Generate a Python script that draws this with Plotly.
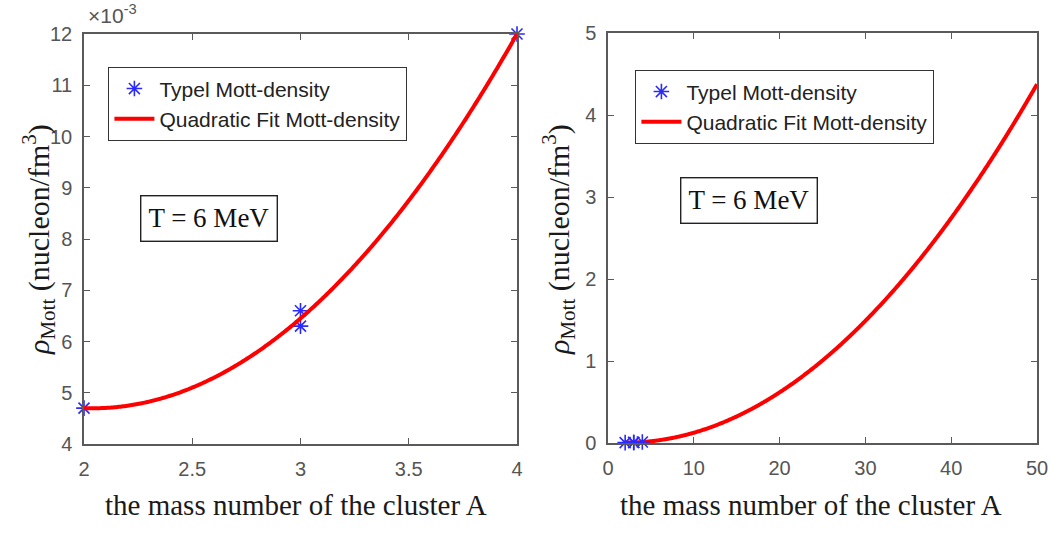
import numpy as np
import plotly.graph_objects as go

# Mott densities (nucleon/fm^3) of light clusters at T = 6 MeV
mass_number = [2, 3, 3, 4]
mott_density = [0.0047, 0.0066, 0.0063, 0.0120]

# Quadratic fit of the Mott density versus cluster mass number
coeffs = np.polyfit(mass_number, mott_density, 2)
a_left = np.linspace(2, 4, 300)
a_right = np.linspace(2, 50, 600)
fit_left = np.polyval(coeffs, a_left)
fit_right = np.polyval(coeffs, a_right)

left_yticks = [0.004, 0.005, 0.006, 0.007, 0.008, 0.009, 0.010, 0.011, 0.012]
left_yticklabels = ["4", "5", "6", "7", "8", "9", "10", "11", "12"]
left_xticks = [2, 2.5, 3, 3.5, 4]
right_xticks = [0, 10, 20, 30, 40, 50]
right_yticks = [0, 1, 2, 3, 4, 5]

W, H = 1050, 545
SANS = "Liberation Sans, Arial, sans-serif"
SERIF = "Liberation Serif, Times New Roman, serif"
TICK_COLOR = "#555555"
AX_COLOR = "#5a5a5a"


def px_x(p):
    return p / W


def px_y(p):
    return 1 - p / H


fig = go.Figure()

marker_style = dict(symbol="asterisk-open", size=13,
                    line=dict(color="#2a2aff", width=1.6), color="#2a2aff")
fit_line = dict(color="#ff0000", width=4, simplify=False)

fig.add_trace(go.Scatter(x=mass_number, y=mott_density, mode="markers",
                         marker=marker_style, name="Typel Mott-density",
                         xaxis="x", yaxis="y", legend="legend", cliponaxis=False))
fig.add_trace(go.Scatter(x=a_left, y=fit_left, mode="lines", line=fit_line,
                         name="Quadratic Fit Mott-density",
                         xaxis="x", yaxis="y", legend="legend"))

fig.add_trace(go.Scatter(x=a_right, y=fit_right, mode="lines", line=fit_line,
                         name="Quadratic Fit Mott-density",
                         xaxis="x2", yaxis="y2", legend="legend2"))
fig.add_trace(go.Scatter(x=mass_number, y=mott_density, mode="markers",
                         marker=marker_style, name="Typel Mott-density",
                         xaxis="x2", yaxis="y2", legend="legend2", cliponaxis=False))

axis_common = dict(showline=True, linecolor=AX_COLOR, linewidth=1.5, mirror="ticks",
                   ticks="inside", ticklen=6, tickcolor=AX_COLOR, tickwidth=1.3,
                   showgrid=False, zeroline=False, automargin=False,
                   ticklabelstandoff=6,
                   tickfont=dict(family=SANS, size=20, color=TICK_COLOR))

legend_common = dict(xanchor="left", yanchor="top",
                     bordercolor="#333", borderwidth=1.4, bgcolor="white",
                     font=dict(family=SANS, size=21, color="#222"), tracegroupgap=0,
                     itemwidth=40)

fig.update_layout(
    width=W, height=H,
    margin=dict(l=0, r=0, t=0, b=0, autoexpand=False),
    paper_bgcolor="white", plot_bgcolor="white",
    xaxis=dict(axis_common, domain=[px_x(84), px_x(517)], range=[2, 4],
               tickvals=left_xticks, anchor="y"),
    yaxis=dict(axis_common, domain=[px_y(444), px_y(34)], range=[0.004, 0.012],
               tickvals=left_yticks, ticktext=left_yticklabels, anchor="x"),
    xaxis2=dict(axis_common, domain=[px_x(608), px_x(1037)], range=[0, 50],
                tickvals=right_xticks, anchor="y2"),
    yaxis2=dict(axis_common, domain=[px_y(443), px_y(33)], range=[0, 5],
                tickvals=right_yticks, anchor="x2"),
    legend=dict(legend_common, x=px_x(108), y=px_y(67)),
    legend2=dict(legend_common, x=px_x(635), y=px_y(70), traceorder="reversed"),
    showlegend=True,
)

xlabel = "the mass number of the cluster A"
ylabel = "<i>ρ</i><sub>Mott</sub> (nucleon/fm<sup>3</sup>)"
title_font = dict(family=SERIF, size=29, color="#1a1a1a")

for cx in (296, 811):
    fig.add_annotation(text=xlabel, xref="paper", yref="paper",
                       x=px_x(cx), y=px_y(505), xanchor="center", yanchor="middle",
                       showarrow=False, font=title_font)
for cx in (38, 558):
    fig.add_annotation(text=ylabel, xref="paper", yref="paper", textangle=-90,
                       x=px_x(cx), y=px_y(240), xanchor="center", yanchor="middle",
                       showarrow=False, font=dict(title_font, size=30))

box_style = dict(showarrow=False, bordercolor="#222", borderwidth=1.4, bgcolor="white",
                 font=dict(family=SERIF, size=27, color="#111"), borderpad=7)
fig.add_annotation(text="T = 6 MeV", xref="paper", yref="paper",
                   x=px_x(209), y=px_y(218), xanchor="center", yanchor="middle", **box_style)
fig.add_annotation(text="T = 6 MeV", xref="paper", yref="paper",
                   x=px_x(749), y=px_y(201), xanchor="center", yanchor="middle", **box_style)

fig.add_annotation(text="×10<sup>-3</sup>", xref="paper", yref="paper",
                   x=px_x(86), y=px_y(29), xanchor="left", yanchor="bottom",
                   showarrow=False, font=dict(family=SANS, size=21, color=TICK_COLOR))

fig.write_html("out.html")
